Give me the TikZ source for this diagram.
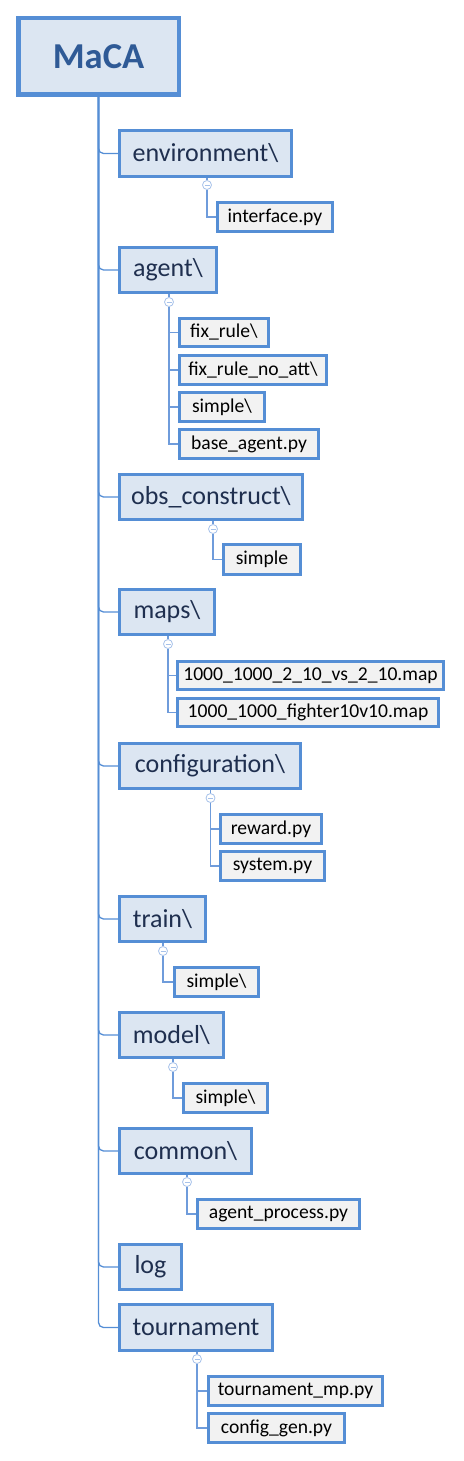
\documentclass[tikz,border=0pt]{standalone}
\usepackage{fontspec}
\setmainfont{Carlito}
\definecolor{bord}{HTML}{558ED5}
\definecolor{lfill}{HTML}{DCE6F2}
\definecolor{cfill}{HTML}{F2F2F2}
\definecolor{ltext}{HTML}{1F2F4F}
\definecolor{rtext}{HTML}{2F5A96}
\definecolor{tgl}{HTML}{A7C2EA}
\definecolor{clin}{HTML}{6F9CDB}
\newcommand\bx[7]{\node[#1, minimum width={(#5-#4-3)*1pt}, minimum height={(#7-#6-3)*1pt}] (#2) at ({(#4+#5)/2},{(#6+#7)/2}) {#3};}
\begin{document}
\begin{tikzpicture}[x=1pt,y=-1pt,
 rootbox/.style={draw=bord, fill=lfill, line width=4.5pt, inner sep=0pt, font=\fontsize{36.5}{40}\selectfont\bfseries, text=rtext},
 lvbox/.style={draw=bord, fill=lfill, line width=2.5pt, inner sep=0pt, font=\fontsize{26}{30}\selectfont, text=ltext},
 chbox/.style={draw=bord, fill=cfill, line width=3pt, inner sep=0pt, font=\fontsize{19.6}{23}\selectfont, text=black},
 trunk/.style={draw=bord, line width=1.3pt, rounded corners=5pt},
 cline/.style={draw=clin, line width=1.2pt},
 toggle/.style={circle, draw=tgl, fill=white, line width=0.8pt, minimum size=9pt, inner sep=0pt,
   path picture={\draw[tgl, line width=0.8pt] ([xshift=-2.5pt]path picture bounding box.center) -- ([xshift=2.5pt]path picture bounding box.center);}}
]
\useasboundingbox (0,0) rectangle (463,1461);

% root
\node[rootbox, minimum width=160.5pt, minimum height=76.5pt] (root) at (98.5,56.5) {MaCA};

% level 1
\bx{lvbox}{env}{environment\textbackslash}{118}{293}{129}{178}
\bx{lvbox}{agent}{agent\textbackslash}{118}{218}{246}{294}
\bx{lvbox}{obs}{obs\_construct\textbackslash}{118}{304}{473}{521}
\bx{lvbox}{maps}{maps\textbackslash}{118}{216}{588}{636}
\bx{lvbox}{conf}{configuration\textbackslash}{118}{302}{742}{790}
\bx{lvbox}{train}{train\textbackslash}{118}{207}{895}{943}
\bx{lvbox}{model}{model\textbackslash}{118}{225}{1011}{1059}
\bx{lvbox}{common}{common\textbackslash}{118}{253}{1127}{1175}
\bx{lvbox}{log}{log}{118}{183}{1243}{1291}
\bx{lvbox}{tour}{tournament}{118}{274}{1303}{1352}

% trunk connectors
\foreach \n in {env,agent,obs,maps,conf,train,model,common,log,tour}
  \draw[trunk] (root.south) |- (\n.west);

% level 2
\bx{chbox}{iface}{interface.py}{216}{334}{201}{233}
\bx{chbox}{fr}{fix\_rule\textbackslash}{178}{270}{317}{348}
\bx{chbox}{frna}{fix\_rule\_no\_att\textbackslash}{178}{328}{354}{386}
\bx{chbox}{asimple}{simple\textbackslash}{178}{266}{391}{423}
\bx{chbox}{base}{base\_agent.py}{178}{320}{428}{460}
\bx{chbox}{osimple}{simple}{222}{302}{543}{576}
\bx{chbox}{mapa}{1000\_1000\_2\_10\_vs\_2\_10.map}{176}{445}{660}{691}
\bx{chbox}{mapb}{1000\_1000\_fighter10v10.map}{176}{440}{697}{728}
\bx{chbox}{reward}{reward.py}{219}{323}{813}{845}
\bx{chbox}{system}{system.py}{219}{326}{850}{882}
\bx{chbox}{tsimple}{simple\textbackslash}{173}{260}{966}{998}
\bx{chbox}{msimple}{simple\textbackslash}{182}{269}{1082}{1114}
\bx{chbox}{aproc}{agent\_process.py}{196}{361}{1198}{1230}
\bx{chbox}{tmp}{tournament\_mp.py}{207}{384}{1375}{1407}
\bx{chbox}{cgen}{config\_gen.py}{207}{346}{1412}{1444}

% toggles
\node[toggle] (tenv) at (207,185) {};
\node[toggle] (tagent) at (169,302) {};
\node[toggle] (tobs) at (213,529) {};
\node[toggle] (tmaps) at (168,644) {};
\node[toggle] (tconf) at (210.5,798) {};
\node[toggle] (ttrain) at (163,951) {};
\node[toggle] (tmodel) at (173,1067) {};
\node[toggle] (tcommon) at (187,1182) {};
\node[toggle] (ttour) at (197,1359) {};

% parent to toggle
\foreach \p/\t in {env/tenv,agent/tagent,obs/tobs,maps/tmaps,conf/tconf,train/ttrain,model/tmodel,common/tcommon,tour/ttour}
  \draw[cline] (\p.south -| \t) -- (\t.north);

% toggle to children
\foreach \t/\c in {tenv/iface,tagent/fr,tagent/frna,tagent/asimple,tagent/base,tobs/osimple,tmaps/mapa,tmaps/mapb,tconf/reward,tconf/system,ttrain/tsimple,tmodel/msimple,tcommon/aproc,ttour/tmp,ttour/cgen}
  \draw[cline] (\t.south) |- (\c.west);
\end{tikzpicture}
\end{document}
